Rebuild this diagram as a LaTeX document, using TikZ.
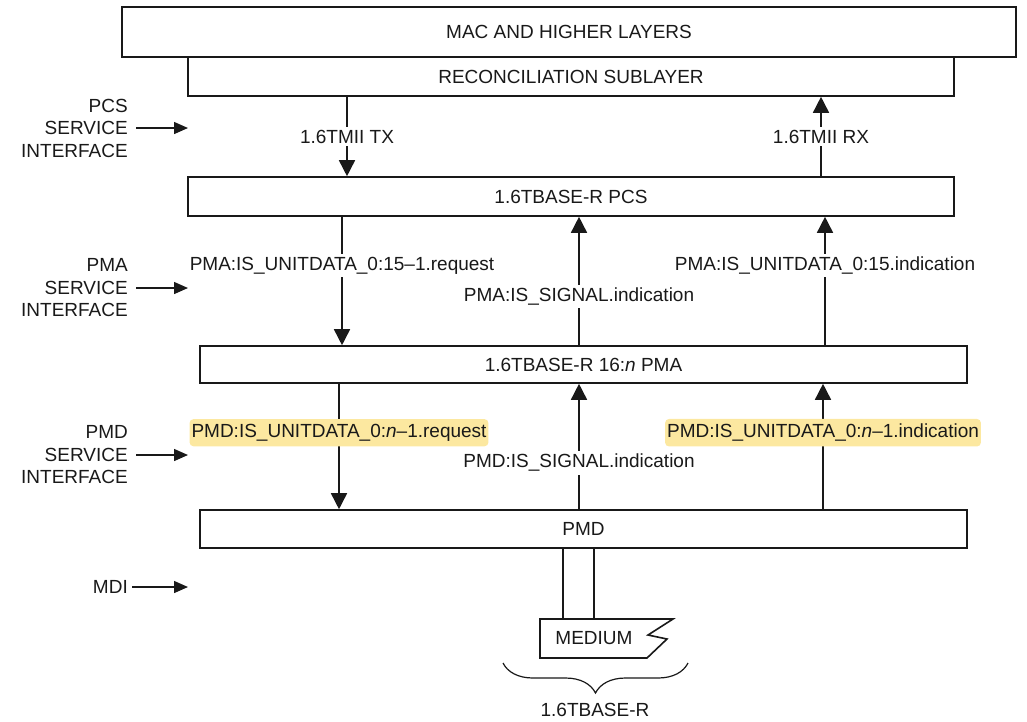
\documentclass[tikz,border=0pt]{standalone}
\usepackage{fontspec}
\setmainfont{Liberation Sans}
\usetikzlibrary{arrows.meta, decorations.pathreplacing}

\definecolor{hlyellow}{RGB}{252,232,160}
\definecolor{ink}{RGB}{25,25,25}

\begin{document}
\begin{tikzpicture}[x=1pt, y=-1pt, font=\fontsize{19}{22.5}\selectfont, text=ink,
    layer/.style={draw=ink, line width=1.6pt, inner sep=0pt},
    sig/.style={draw=ink, -{Triangle[width=16pt, length=16pt]}, line width=1.6pt},
    sidesig/.style={draw=ink, -{Triangle[width=12pt, length=14pt]}, line width=1.4pt, shorten <=8pt},
    lbl/.style={fill=white, inner xsep=2pt, inner ysep=3pt},
    hl/.style={fill=hlyellow, rounded corners=4pt, inner xsep=2pt, inner ysep=5pt},
    side/.style={align=right, anchor=east, inner sep=0pt}]
    \useasboundingbox (0,0) rectangle (1027,721);

    % Layer stack
    \node (mac) [layer, minimum width=894pt, minimum height=50pt] at (569,32) {MAC AND HIGHER LAYERS};
    \node (rs) [layer, minimum width=766pt, minimum height=39pt] at (571,76.5) {RECONCILIATION SUBLAYER};
    \node (pcs) [layer, minimum width=766pt, minimum height=39pt] at (571,196.5) {1.6TBASE-R PCS};
    \node (pma) [layer, minimum width=767pt, minimum height=37pt] at (583.5,364.5) {1.6TBASE-R 16:\textit{n} PMA};
    \node (pmd) [layer, minimum width=767pt, minimum height=38pt] at (583.5,529) {PMD};

    % Signal columns
    \coordinate (tx) at (347,0);
    \coordinate (rx) at (821,0);
    \coordinate (pa) at (342,0);
    \coordinate (pb) at (579,0);
    \coordinate (pc) at (825,0);
    \coordinate (da) at (339,0);
    \coordinate (dc) at (823,0);

    % 1.6TMII
    \draw[sig] (tx |- rs.south) -- (tx |- pcs.north) node[lbl, midway] {1.6TMII TX};
    \draw[sig] (rx |- pcs.north) -- (rx |- rs.south) node[lbl, midway] {1.6TMII RX};

    % PMA service primitives
    \draw[sig] (pa |- pcs.south) -- (pa |- pma.north) node[lbl, pos=0.38] {PMA:IS\_UNITDATA\_0:15\textendash1.request};
    \draw[sig] (pb |- pma.north) -- (pb |- pcs.south) node[lbl, pos=0.38] {PMA:IS\_SIGNAL.indication};
    \draw[sig] (pc |- pma.north) -- (pc |- pcs.south) node[lbl, pos=0.62] {PMA:IS\_UNITDATA\_0:15.indication};

    % PMD service primitives
    \draw[sig] (da |- pma.south) -- (da |- pmd.north) node[hl, pos=0.39] {PMD:IS\_UNITDATA\_0:\textit{n}\textendash1.request};
    \draw[sig] (pb |- pmd.north) -- (pb |- pma.south) node[lbl, pos=0.37] {PMD:IS\_SIGNAL.indication};
    \draw[sig] (dc |- pmd.north) -- (dc |- pma.south) node[hl, pos=0.61] {PMD:IS\_UNITDATA\_0:\textit{n}\textendash1.indication};

    % Interface labels on the left
    \node (pcsl) [side] at (128,128) {PCS\\SERVICE\\INTERFACE};
    \node (pmal) [side] at (128,288) {PMA\\SERVICE\\INTERFACE};
    \node (pmdl) [side] at (128,455) {PMD\\SERVICE\\INTERFACE};
    \node (mdil) [side] at (128,587) {MDI};
    \coordinate (pcsin) at (188,128);
    \coordinate (pmain) at (188,288);
    \coordinate (pmdin) at (188,455);
    \coordinate (mdiin) at (188,587);
    \draw[sidesig] (pcsl.east) -- (pcsin);
    \draw[sidesig] (pmal.east) -- (pmain);
    \draw[sidesig] (pmdl.east) -- (pmdin);
    \draw[sidesig, shorten <=4pt] (mdil.east) -- (mdiin);

    % Medium
    \node (med) at (594,638) {MEDIUM};
    \draw[draw=ink, line width=1.6pt, line join=miter] (540,619) -- (673,619) -- (648,635) -- (667,639) -- (647,658) -- (540,658) -- cycle;
    \coordinate (m1) at (563,619);
    \coordinate (m2) at (594,619);
    \draw[draw=ink, line width=1.6pt] (m1 |- pmd.south) -- (m1);
    \draw[draw=ink, line width=1.6pt] (m2 |- pmd.south) -- (m2);

    % Brace
    \draw[draw=ink, line width=1.2pt, decorate, decoration={brace, mirror, amplitude=30pt}] (503,663) -- (688,663);
    \node (phy) at (595,710) {1.6TBASE-R};

\end{tikzpicture}
\end{document}
